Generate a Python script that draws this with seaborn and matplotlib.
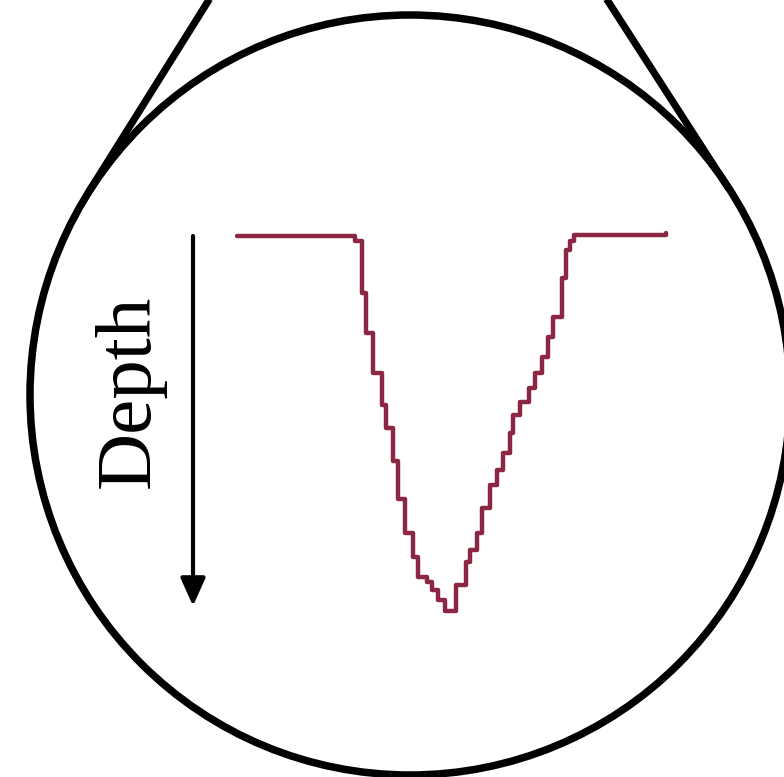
import numpy as np
import pandas as pd
import seaborn as sns
import matplotlib.pyplot as plt
from matplotlib.patches import Circle
from matplotlib import font_manager

# stepped bathymetry profile (distance along section, depth)
distance = [237, 355, 362, 366, 373, 382, 386, 393, 398, 405, 413, 418, 427, 432, 438,
            445, 456, 466, 470, 477, 482, 490, 497, 503, 510, 513, 520, 529, 535, 542,
            548, 553, 562, 566, 570, 574, 666]
depth = [236, 241, 293, 333, 373, 405, 428, 461, 499, 533, 557, 577, 582, 590, 600,
         611, 585, 562, 550, 533, 508, 485, 470, 453, 433, 415, 402, 388, 373, 357,
         337, 317, 278, 250, 241, 235, 233]

label = 'Depth'
line_color = '#8c2743'

# magnifier circle and the two cone lines (apex -> tangent point)
lens_center = (410, 395)
lens_radius = 380
cone_left = ([212, 88], [-5, 193])
cone_right = ([604, 729], [-5, 189])

sns.set_theme(style='white')
serif_font = 'DejaVu Serif'
for name in ['Liberation Serif', 'Times New Roman', 'Noto Serif']:
    try:
        font_manager.findfont(name, fallback_to_default=False)
        serif_font = name
        break
    except Exception:
        pass

fig = plt.figure(figsize=(7.84, 7.77), dpi=100)
ax = fig.add_axes([0, 0, 1, 1])

profile = pd.DataFrame({'distance': distance, 'depth': depth})
sns.lineplot(data=profile, x='distance', y='depth', ax=ax, color=line_color,
             lw=3.2, drawstyle='steps-post', estimator=None, sort=False)

ax.add_patch(Circle(lens_center, lens_radius, fill=False, lw=5.4, color='black'))
ax.plot(*cone_left, color='black', lw=5.2, solid_capstyle='butt')
ax.plot(*cone_right, color='black', lw=5.2, solid_capstyle='butt')

ax.annotate('', xy=(193, 606), xytext=(193, 236),
            arrowprops=dict(arrowstyle='-|>,head_length=0.85,head_width=0.38',
                            mutation_scale=20, lw=3, color='black',
                            shrinkA=0, shrinkB=0))
ax.text(130, 391, label, rotation=90, ha='center', va='center', fontsize=57,
        family=[serif_font, 'DejaVu Serif'], color='black')

ax.set_xlim(0, 784)
ax.set_ylim(777, 0)
ax.set_aspect('equal')
ax.axis('off')

plt.savefig('out.png', dpi=100, facecolor='white')
